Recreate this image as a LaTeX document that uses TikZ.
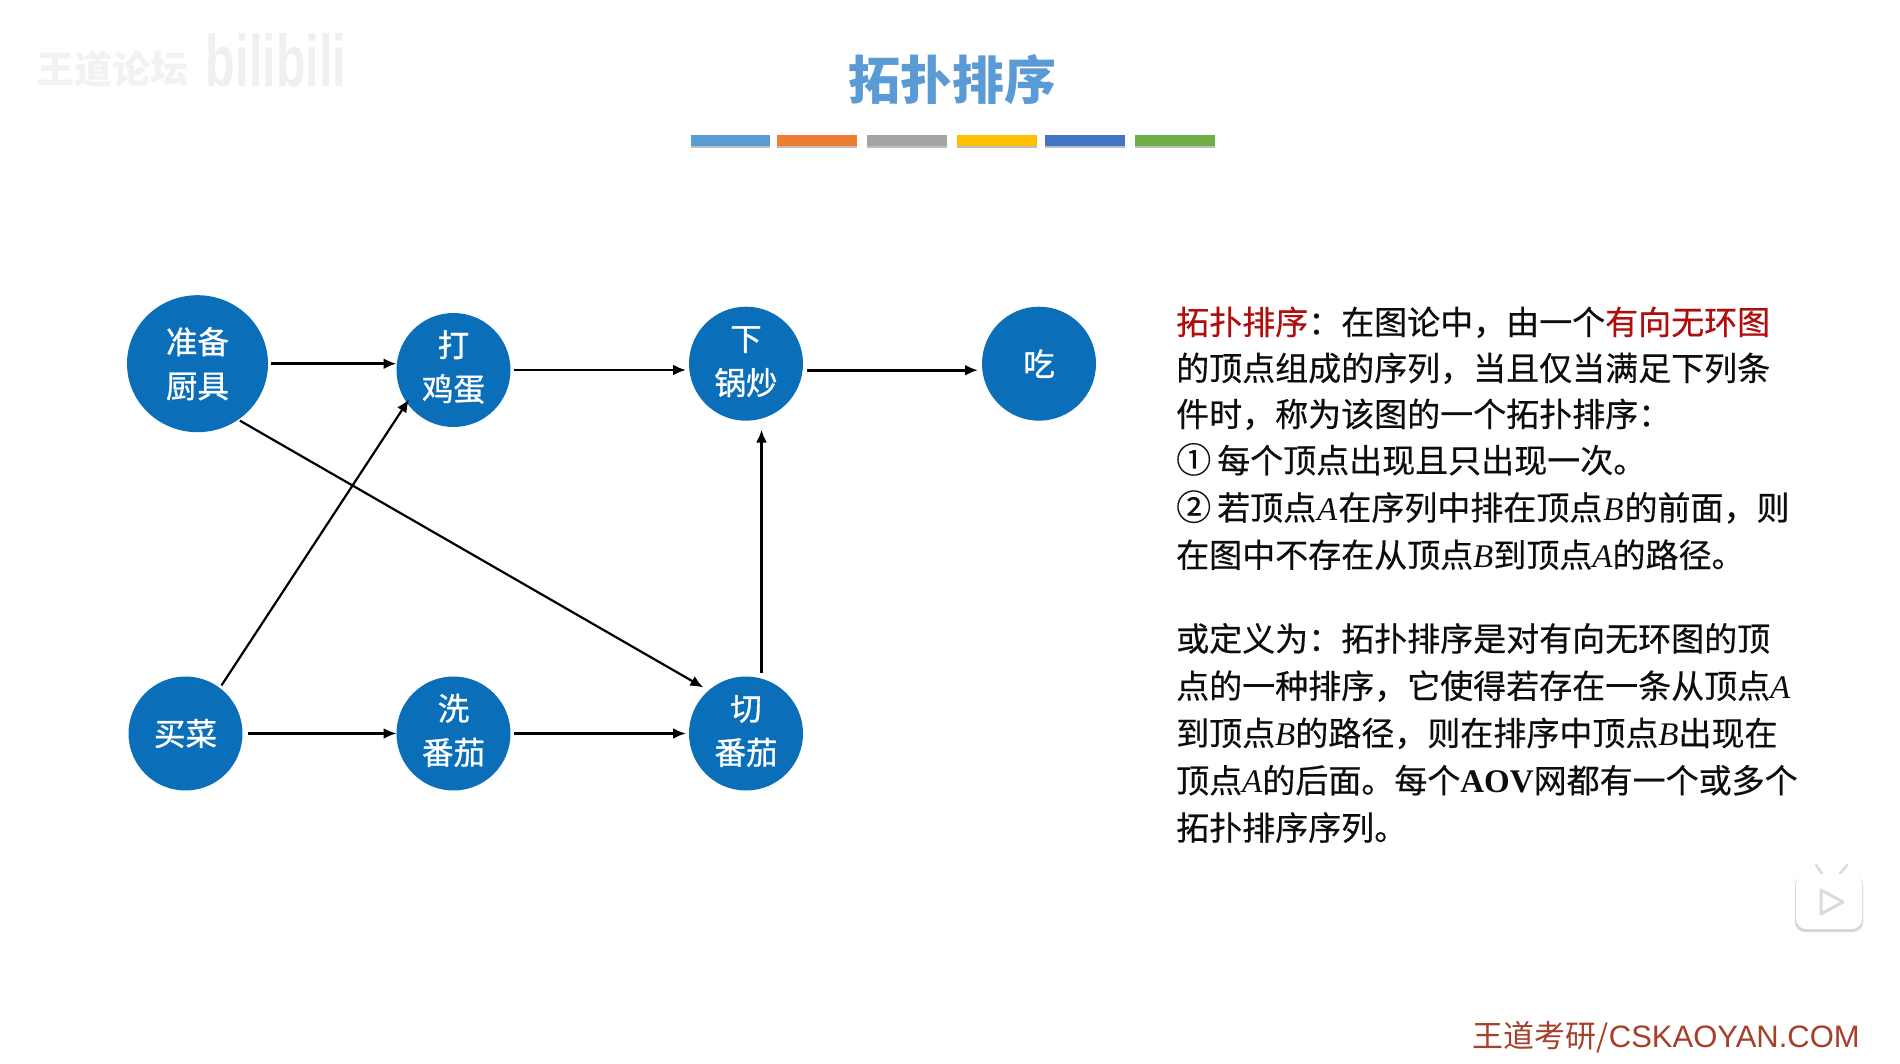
\documentclass[tikz,border=0pt]{standalone}
\usepackage{fontspec}
\usetikzlibrary{arrows.meta,shapes.geometric}
\setmainfont{Noto Sans CJK SC}
\newfontfamily\semifont[FakeBold=0.4]{Noto Sans CJK SC}
\newfontfamily\nodefont[FakeBold=1]{Noto Sans CJK SC}
\newfontfamily\latinsans{Liberation Sans}
\newfontfamily\latinserif{Liberation Serif}
\newcommand{\va}{{\latinserif\itshape A}}
\newcommand{\vb}{{\latinserif\itshape B}}
\newcommand{\tasklines}[3]{\raisebox{#1}{\begin{tabular}{@{}c@{}}#2\\#3\end{tabular}}}
\definecolor{nodeblue}{HTML}{0A6EB8}
\definecolor{titleblue}{HTML}{5B9BD5}
\definecolor{defred}{HTML}{B00D0D}
\definecolor{footred}{HTML}{A5402A}
\tikzset{
  task/.style={circle,fill=nodeblue,text=white,minimum size=114pt,inner sep=0pt,outer sep=0pt,align=center,
    font=\nodefont\fontsize{31.5}{44}\selectfont},
  bigtask/.style={task,ellipse,minimum width=141pt,minimum height=137pt},
  arr/.style={-{Latex[length=13pt,width=11pt]},line width=2.6pt,black},
  thinarr/.style={-{Latex[length=13pt,width=11pt]},line width=2.2pt,black},
  bodyline/.style={anchor=base west,inner sep=0pt,font=\semifont\fontsize{33}{40}\selectfont,text=black!95}
}
\begin{document}
\begin{tikzpicture}[x=1pt,y=-1pt]
\useasboundingbox (0,0) rectangle (1900,1064);
\fill[white] (0,0) rectangle (1900,1064);
% watermark
\node[inner sep=0pt,text=black!5,font=\bfseries\fontsize{38}{40}\selectfont] (wm1) at (112,69) {王道论坛};
\node[inner sep=0pt,text=black!6,font=\latinsans\bfseries] (wm2) at (276,60) {\scalebox{0.9}[1.35]{\fontsize{54}{60}\selectfont bilibili}};
% title
\node[inner sep=0pt,text=titleblue,font=\bfseries\fontsize{52}{60}\selectfont] (title) at (952.5,79.5) {拓扑排序};
% bars
\foreach \xa/\xb/\c in {691/770/5B9BD5,777/857/ED7D31,867/947/A5A5A5,957/1037/FFC000,1045/1125/4472C4,1135/1215/70AD47}{
  \fill[black!25] (\xa,140) rectangle (\xb,148);
  \definecolor{barc}{HTML}{\c}
  \fill[barc] (\xa,135) rectangle (\xb,146);
}
% nodes
\node[bigtask] (zb) at (197.5,363.7) {准备\\厨具};
\node[task] (dj) at (453.5,370) {\tasklines{1pt}{打}{鸡蛋}};
\node[task] (xg) at (746,363.7) {\tasklines{2.5pt}{下}{锅炒}};
\node[task] (chi) at (1039,363.7) {吃};
\node[task] (mc) at (185.5,733.5) {买菜};
\node[task] (xf) at (453.5,733.5) {\tasklines{2pt}{洗}{番茄}};
\node[task] (qf) at (746,733.5) {\tasklines{2pt}{切}{番茄}};
% connectors
\draw[arr] ([xshift=3pt]zb.east) -- (zb.east -| dj.west);
\draw[arr,shorten >=3pt] ([xshift=3pt]dj.east) -- (dj.east -| xg.west);
\draw[arr,shorten >=4pt] ([shift={(4,6.5)}]xg.east) -- ([yshift=-6.5pt]xg.east -| chi.west);
\draw[arr,shorten <=5pt] (mc.east) -- (mc.east -| xf.west);
\draw[arr,shorten >=3pt] ([xshift=3pt]xf.east) -- (xf.east -| qf.west);
\draw[thinarr] ([shift={(15.5,-4)}]qf.north) -- ([shift={(15.5,9)}]qf.north |- xg.south);
\draw[thinarr,shorten <=3pt,shorten >=-4pt] (mc.53) -- (dj.215);
\draw[thinarr,shorten <=2pt,shorten >=6pt] (zb.-54) -- (qf.131);
% definition text
\node[bodyline] (l1) at (1176,334.5) {\textcolor{defred}{拓扑排序}：在图论中，由一个\textcolor{defred}{有向无环图}};
\node[bodyline] (l2) at (1176,380.5) {的顶点组成的序列，当且仅当满足下列条};
\node[bodyline] (l3) at (1176,426.5) {件时，称为该图的一个拓扑排序：};
\node[bodyline] (l4) at (1176,472.7) {{\fontsize{35}{40}\selectfont ①}\hspace{6pt}每个顶点出现且只出现一次。};
\node[bodyline] (l5) at (1176,520) {{\fontsize{35}{40}\selectfont ②}\hspace{6pt}若顶点\hspace{1pt}\va\hspace{1pt}在序列中排在顶点\hspace{1pt}\vb\hspace{1pt}的前面，则};
\node[bodyline] (l6) at (1176,567.3) {在图中不存在从顶点\vb 到顶点\va 的路径。};
\node[bodyline] (l7) at (1176,651) {或定义为：拓扑排序是对有向无环图的顶};
\node[bodyline] (l8) at (1176,698.3) {点的一种排序，它使得若存在一条从顶点\va};
\node[bodyline] (l9) at (1176,745.5) {到顶点\vb 的路径，则在排序中顶点\vb 出现在};
\node[bodyline] (l10) at (1176,792.8) {顶点\va 的后面。每个{\latinserif\bfseries AOV}网都有一个或多个};
\node[bodyline] (l11) at (1176,840.1) {拓扑排序序列。};
% footer
\node[anchor=base west,inner sep=0pt,text=footred,font=\fontsize{31}{36}\selectfont] (foot) at (1472.5,1047) {王道考研/{\latinsans CSKAOYAN.COM}};
% player icon
\draw[black!14,line width=2.5pt,line cap=round] (1816,865) -- (1823,875) (1847,865) -- (1839,875);
\fill[black!16,rounded corners=10pt] (1795,875) rectangle (1863,932);
\fill[white,rounded corners=10pt] (1796,874) rectangle (1862,929);
\draw[black!14,line width=3pt,line join=round] (1821,890) -- (1843,902) -- (1821,914) -- cycle;
\end{tikzpicture}
\end{document}
